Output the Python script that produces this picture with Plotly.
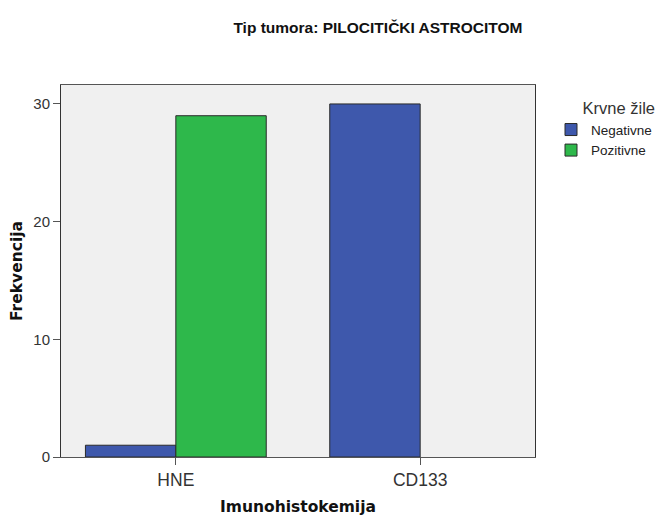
import plotly.graph_objects as go

categories = ["HNE", "CD133"]
negativne = [1, 30]
pozitivne = [29, 0]
series_names = ["Negativne", "Pozitivne"]
y_ticks = [0, 10, 20, 30]

ARIAL = "Arial, Liberation Sans, sans-serif"
WIDE = "DejaVu Sans, Arial, sans-serif"

# paper spans from 53 to 649 px; plot area width 474 px inside it
M_L, M_R = 53, 14
PAPER_W = 663 - M_L - M_R
PLOT_W = 474

fig = go.Figure()
fig.add_trace(go.Bar(x=categories, y=negativne, name=series_names[0],
                     marker=dict(color="#3E58AC", line=dict(color="#2A2A2A", width=1))))
fig.add_trace(go.Bar(x=categories, y=pozitivne, name=series_names[1],
                     marker=dict(color="#2EB84B",
                                 line=dict(color="#2A2A2A", width=[1 if v > 0 else 0 for v in pozitivne]))))

fig.update_layout(
    width=663, height=519,
    margin=dict(l=M_L, r=M_R, t=77, b=70),
    paper_bgcolor="white", plot_bgcolor="#F0F0F0",
    barmode="group", bargap=0.26, bargroupgap=0,
    font=dict(family=ARIAL, color="#222222"),
    title=dict(text="<b>Tip tumora: PILOCITIČKI ASTROCITOM</b>", x=0.558, xanchor="center",
               y=0.963, yanchor="middle", font=dict(family=ARIAL, size=15.5, color="#111111")),
    legend=dict(x=1.0, xanchor="right", y=0.979, yanchor="top",
                title=dict(text="Krvne žile", side="top right", font=dict(size=16.5, color="#333333")),
                font=dict(size=13.5, color="#222222"), itemwidth=30, tracegroupgap=0,
                bgcolor="rgba(0,0,0,0)"),
    showlegend=True,
)
fig.update_xaxes(type="category", range=[-0.47, 1.47], domain=[0, PLOT_W / PAPER_W],
                 automargin=False, showline=True, linecolor="#555555",
                 linewidth=1, mirror=True, ticks="outside", ticklen=7, tickcolor="#555555",
                 tickfont=dict(size=17.5, color="#333333"), showgrid=False,
                 title=dict(text="<b>Imunohistokemija</b>", font=dict(family=WIDE, size=15.5, color="#111111"),
                            standoff=12))
fig.update_yaxes(range=[0, 31.61], tickvals=y_ticks, automargin=False, showline=True, linecolor="#333333",
                 linewidth=1, mirror=True, ticks="outside", ticklen=7, tickcolor="#555555",
                 tickfont=dict(size=15, color="#333333"), showgrid=False, zeroline=False,
                 title=dict(text="<b>Frekvencija</b>", font=dict(family=WIDE, size=15.5, color="#111111"),
                            standoff=7))

fig.write_html("out.html")
